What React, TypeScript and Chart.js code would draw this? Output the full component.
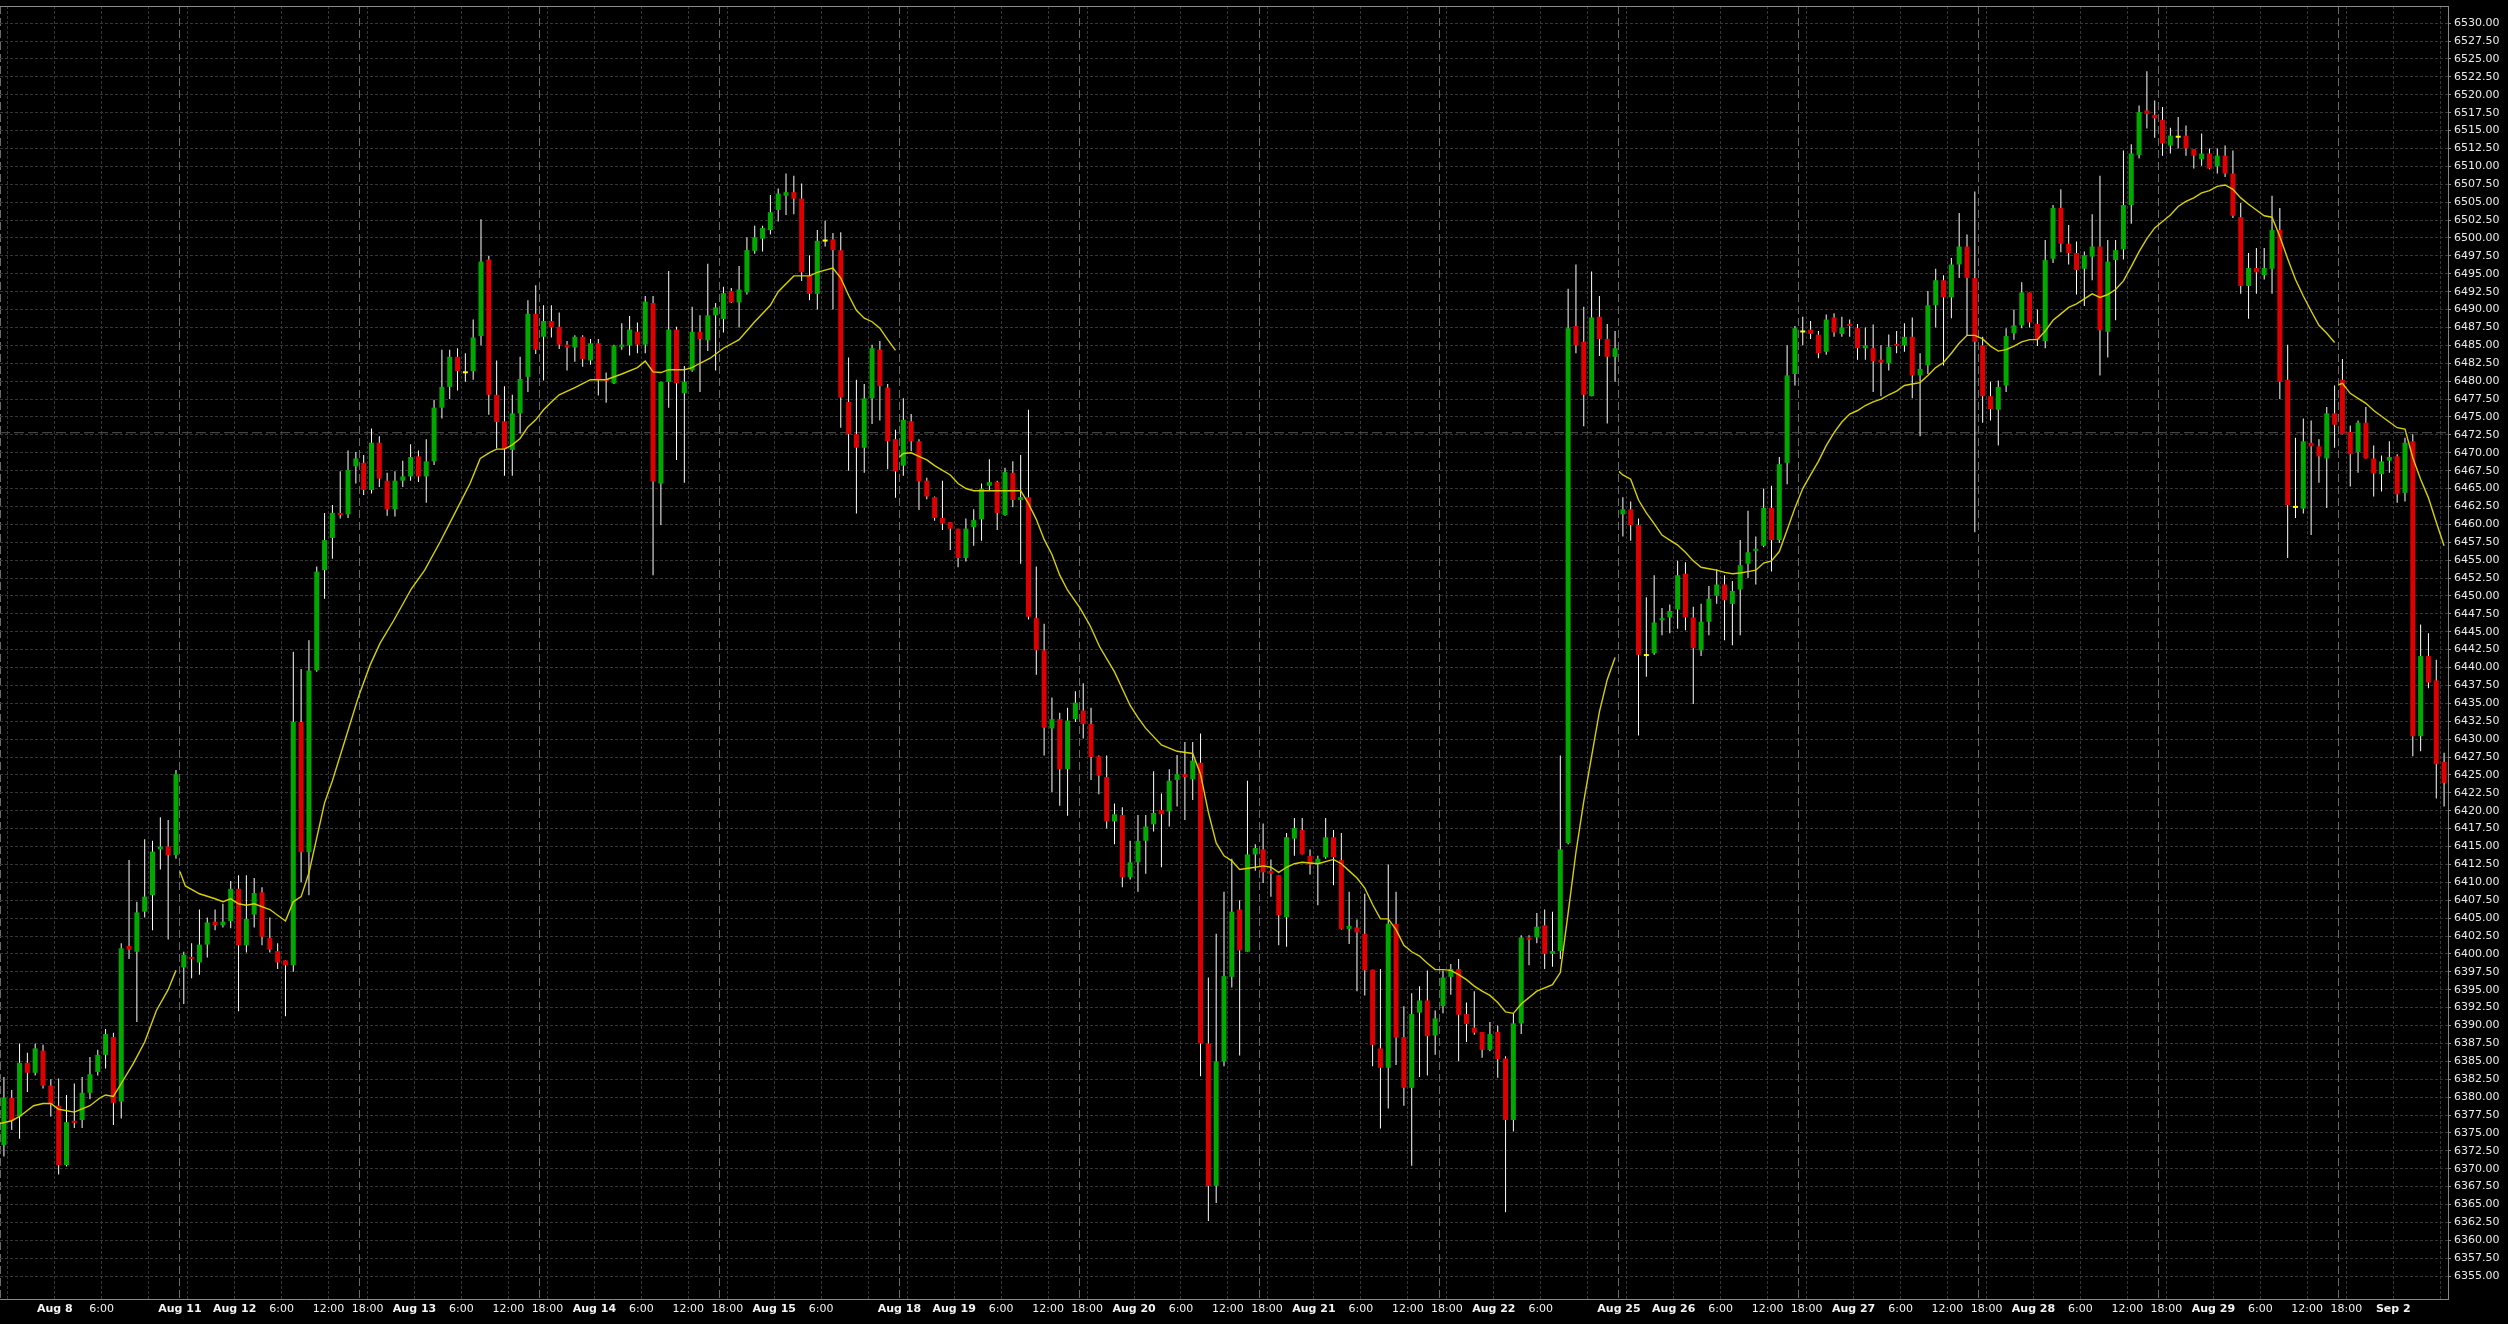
import React, { useEffect, useRef } from 'react';
import { Chart, registerables } from 'chart.js';

Chart.register(...registerables);

// ---- OHLC (hourly candles, index 0..312) ----
const opens = [
  6373.3, 6379.9, 6377.3, 6384.8, 6383.4, 6386.5, 6381.6, 6378.8, 6370.5, 6376.7,
  6376.8, 6380.6, 6383.5, 6385.9, 6388.4, 6379.4, 6401.1, 6400.3, 6405.9, 6408.2,
  6414.6, 6415.0, 6413.8, 6398.1, 6399.5, 6398.8, 6401.3, 6404.5, 6404.0, 6404.6,
  6409.1, 6401.2, 6405.5, 6408.6, 6402.2, 6400.4, 6399.1, 6398.4, 6432.4, 6414.2,
  6439.6, 6453.6, 6458.1, 6461.6, 6461.4, 6468.1, 6468.6, 6464.8, 6471.4, 6466.1,
  6462.1, 6466.1, 6466.7, 6469.5, 6466.7, 6468.8, 6476.3, 6479.2, 6483.4, 6481.1,
  6481.4, 6486.3, 6497.0, 6478.1, 6474.4, 6470.4, 6475.5, 6480.6, 6489.4, 6486.2,
  6488.4, 6487.6, 6485.1, 6484.7, 6486.2, 6482.9, 6485.3, 6480.3, 6479.7, 6484.8,
  6485.0, 6486.9, 6485.1, 6490.9, 6465.7, 6479.9, 6487.2, 6478.3, 6481.5, 6486.9,
  6485.7, 6489.2, 6488.7, 6492.6, 6491.0, 6492.4, 6498.2, 6499.9, 6501.1, 6503.9,
  6505.9, 6506.4, 6505.5, 6494.7, 6492.2, 6499.5, 6499.8, 6498.3, 6477.1, 6472.6,
  6470.7, 6477.6, 6484.4, 6479.1, 6471.9, 6468.2, 6474.4, 6471.6, 6466.1, 6463.8,
  6460.9, 6460.3, 6459.4, 6455.3, 6459.6, 6460.7, 6465.4, 6465.9, 6461.3, 6467.2,
  6463.4, 6463.8, 6446.9, 6442.4, 6431.5, 6432.8, 6425.8, 6432.8, 6434.0, 6432.1,
  6427.6, 6424.7, 6418.5, 6419.4, 6410.7, 6412.8, 6415.8, 6418.1, 6420.1, 6419.9,
  6424.3, 6425.1, 6424.4, 6426.7, 6387.5, 6367.6, 6385.0, 6396.8, 6406.2, 6400.3,
  6413.9, 6414.6, 6411.6, 6411.0, 6405.1, 6416.1, 6417.3, 6413.7, 6412.5, 6413.5,
  6416.3, 6413.1, 6403.5, 6403.7, 6402.8, 6397.8, 6386.8, 6384.1, 6404.2, 6388.4,
  6381.3, 6391.8, 6393.5, 6388.6, 6392.7, 6396.8, 6397.9, 6391.6, 6389.7, 6389.1,
  6386.6, 6389.1, 6385.4, 6376.8, 6390.3, 6402.3, 6402.3, 6404.0, 6400.0, 6400.4,
  6415.5, 6487.7, 6485.5, 6477.9, 6489.0, 6485.9, 6483.4, 6461.4, 6462.1, 6459.9,
  6441.6, 6442.0, 6446.6, 6447.0, 6448.1, 6453.1, 6447.0, 6442.4, 6446.4, 6450.0,
  6451.6, 6448.9, 6450.9, 6454.5, 6456.3, 6457.0, 6462.3, 6457.8, 6468.6, 6481.0,
  6486.8, 6487.2, 6486.5, 6484.1, 6488.9, 6486.6, 6488.0, 6487.4, 6484.6, 6484.6,
  6483.0, 6482.5, 6485.2, 6485.0, 6486.2, 6480.8, 6482.2, 6490.6, 6494.1, 6491.7,
  6496.3, 6498.8, 6494.4, 6485.0, 6477.9, 6476.0, 6479.4, 6486.7, 6487.8, 6492.4,
  6488.0, 6485.6, 6497.1, 6504.2, 6499.2, 6497.9, 6495.7, 6497.4, 6498.8, 6486.9,
  6496.9, 6498.4, 6504.6, 6511.6, 6517.8, 6517.2, 6516.5, 6512.9, 6514.0, 6514.3,
  6512.4, 6511.0, 6511.8, 6510.0, 6511.5, 6509.0, 6502.9, 6493.3, 6495.8, 6494.8,
  6495.7, 6501.1, 6480.2, 6462.3, 6462.2, 6471.4, 6470.9, 6469.2, 6475.5, 6480.2,
  6472.9, 6470.1, 6474.2, 6469.2, 6467.0, 6468.9, 6469.5, 6464.4, 6471.6, 6430.4,
  6441.6, 6438.2, 6426.8,
];

const highs = [
  6382.8, 6381.0, 6387.5, 6386.2, 6387.5, 6387.3, 6382.5, 6382.6, 6380.3, 6381.9,
  6382.8, 6385.6, 6386.6, 6389.5, 6389.0, 6401.5, 6413.1, 6407.3, 6416.0, 6415.8,
  6419.1, 6418.7, 6425.7, 6400.3, 6401.5, 6406.2, 6405.1, 6406.2, 6407.0, 6410.2,
  6411.0, 6411.0, 6410.6, 6409.3, 6405.1, 6401.5, 6399.1, 6442.2, 6439.8, 6443.8,
  6454.1, 6461.6, 6462.7, 6467.4, 6470.3, 6470.1, 6469.7, 6473.4, 6472.3, 6467.2,
  6467.4, 6468.9, 6471.2, 6470.3, 6471.9, 6477.4, 6484.4, 6484.4, 6484.6, 6483.9,
  6488.6, 6502.6, 6497.5, 6482.9, 6479.3, 6478.1, 6483.4, 6491.3, 6493.4, 6490.6,
  6490.6, 6489.6, 6485.6, 6486.4, 6486.4, 6485.9, 6485.9, 6481.2, 6485.1, 6488.1,
  6489.1, 6488.2, 6491.9, 6491.9, 6479.9, 6495.4, 6487.6, 6482.1, 6490.4, 6489.2,
  6496.4, 6490.9, 6493.2, 6493.0, 6496.1, 6500.1, 6501.7, 6501.7, 6506.0, 6506.9,
  6509.0, 6508.7, 6507.6, 6497.6, 6501.1, 6502.4, 6500.7, 6500.8, 6483.3, 6480.2,
  6479.6, 6485.1, 6485.6, 6479.6, 6473.2, 6477.6, 6475.4, 6471.9, 6466.5, 6463.9,
  6466.1, 6460.3, 6459.4, 6460.8, 6462.1, 6465.7, 6469.1, 6466.1, 6467.9, 6468.8,
  6469.7, 6476.0, 6454.1, 6446.1, 6435.8, 6433.7, 6434.4, 6436.7, 6437.8, 6434.4,
  6427.7, 6427.7, 6421.0, 6420.5, 6415.8, 6419.4, 6419.4, 6425.5, 6422.4, 6425.8,
  6427.8, 6429.6, 6429.6, 6430.8, 6396.7, 6402.8, 6408.7, 6413.3, 6407.5, 6424.2,
  6415.3, 6418.2, 6413.2, 6411.0, 6416.9, 6419.0, 6419.0, 6414.6, 6413.7, 6419.0,
  6417.3, 6416.9, 6408.7, 6404.8, 6408.4, 6397.8, 6397.9, 6412.5, 6408.7, 6392.7,
  6394.5, 6395.5, 6397.7, 6392.1, 6397.7, 6398.6, 6399.3, 6393.2, 6394.8, 6389.1,
  6390.5, 6390.0, 6385.7, 6391.7, 6402.6, 6402.6, 6405.7, 6406.2, 6405.9, 6427.7,
  6492.9, 6496.3, 6490.4, 6495.3, 6491.9, 6488.0, 6487.0, 6463.8, 6463.2, 6460.8,
  6449.8, 6452.9, 6448.3, 6448.8, 6454.9, 6454.7, 6448.5, 6448.9, 6451.4, 6453.7,
  6452.9, 6452.1, 6457.8, 6461.9, 6458.3, 6465.0, 6465.4, 6469.4, 6485.0, 6487.7,
  6489.0, 6488.4, 6487.0, 6489.3, 6489.5, 6489.0, 6488.6, 6488.0, 6487.5, 6487.9,
  6485.0, 6486.5, 6487.0, 6488.1, 6488.9, 6483.9, 6492.6, 6495.7, 6494.8, 6497.2,
  6503.5, 6500.5, 6506.5, 6486.2, 6479.9, 6480.1, 6487.4, 6490.0, 6493.8, 6492.4,
  6490.0, 6499.7, 6504.6, 6506.8, 6501.8, 6499.5, 6498.1, 6503.3, 6508.7, 6499.7,
  6499.7, 6512.2, 6513.1, 6518.5, 6523.3, 6519.2, 6518.3, 6515.4, 6516.9, 6515.7,
  6512.4, 6514.6, 6512.5, 6512.5, 6512.9, 6512.2, 6504.9, 6497.9, 6498.6, 6498.6,
  6505.9, 6504.2, 6485.1, 6472.1, 6474.8, 6474.5, 6471.9, 6476.4, 6479.4, 6483.1,
  6473.8, 6474.5, 6476.4, 6471.0, 6469.6, 6471.6, 6469.8, 6472.1, 6472.6, 6446.0,
  6444.8, 6441.1, 6428.1,
];

const lows = [
  6371.7, 6375.4, 6374.2, 6380.7, 6383.0, 6381.2, 6377.3, 6369.2, 6370.3, 6375.7,
  6375.7, 6379.7, 6383.0, 6384.0, 6376.1, 6377.0, 6399.3, 6390.5, 6405.1, 6403.3,
  6411.8, 6402.0, 6413.3, 6393.0, 6396.6, 6397.1, 6399.5, 6403.3, 6403.7, 6403.6,
  6392.0, 6400.2, 6403.7, 6401.2, 6400.2, 6397.9, 6391.3, 6397.5, 6410.0, 6408.2,
  6439.4, 6449.6, 6455.2, 6460.8, 6460.9, 6465.7, 6464.1, 6464.3, 6465.2, 6461.2,
  6461.1, 6465.2, 6466.1, 6465.9, 6463.0, 6468.3, 6474.8, 6477.5, 6478.7, 6479.9,
  6480.2, 6485.0, 6475.3, 6470.6, 6466.8, 6466.8, 6472.7, 6478.5, 6483.8, 6480.1,
  6486.1, 6484.5, 6481.5, 6482.7, 6482.0, 6482.3, 6478.0, 6477.0, 6479.6, 6484.4,
  6483.6, 6483.9, 6483.9, 6452.9, 6459.9, 6476.3, 6469.0, 6465.8, 6481.3, 6478.5,
  6484.2, 6481.5, 6486.8, 6490.9, 6487.5, 6492.1, 6497.8, 6498.1, 6500.5, 6502.3,
  6503.2, 6503.3, 6494.0, 6491.3, 6490.0, 6498.8, 6490.0, 6473.5, 6467.5, 6461.5,
  6467.2, 6474.0, 6474.5, 6467.7, 6463.7, 6466.8, 6470.2, 6462.0, 6463.5, 6460.5,
  6459.2, 6456.4, 6454.0, 6454.8, 6457.0, 6457.7, 6464.8, 6459.2, 6461.2, 6462.4,
  6454.5, 6446.7, 6439.0, 6427.7, 6422.6, 6420.7, 6419.3, 6432.4, 6430.1, 6424.3,
  6422.3, 6417.5, 6415.3, 6409.3, 6410.4, 6408.7, 6411.2, 6417.1, 6412.1, 6417.8,
  6420.6, 6418.7, 6421.5, 6382.9, 6362.7, 6365.2, 6384.3, 6395.3, 6385.8, 6400.3,
  6411.6, 6409.9, 6408.0, 6401.2, 6401.0, 6413.7, 6413.9, 6411.1, 6406.8, 6413.3,
  6409.6, 6403.4, 6401.4, 6394.8, 6394.2, 6384.3, 6375.6, 6378.4, 6384.5, 6378.8,
  6370.4, 6382.8, 6383.0, 6385.9, 6391.7, 6394.3, 6385.0, 6387.7, 6388.7, 6385.5,
  6386.4, 6382.7, 6363.9, 6375.2, 6388.8, 6398.4, 6401.5, 6397.9, 6398.2, 6399.3,
  6415.3, 6483.9, 6473.7, 6477.9, 6483.5, 6474.1, 6479.9, 6458.3, 6457.7, 6430.5,
  6438.7, 6441.8, 6444.5, 6444.8, 6445.4, 6445.2, 6434.9, 6441.6, 6444.5, 6448.9,
  6443.8, 6443.1, 6444.5, 6452.5, 6451.6, 6456.8, 6453.4, 6457.4, 6465.6, 6479.4,
  6485.0, 6485.9, 6483.2, 6483.7, 6486.2, 6486.2, 6486.2, 6483.0, 6483.0, 6478.5,
  6477.9, 6481.5, 6483.9, 6484.1, 6477.6, 6472.3, 6481.0, 6487.5, 6482.2, 6488.8,
  6494.4, 6486.4, 6458.9, 6474.2, 6474.5, 6471.0, 6478.5, 6485.8, 6487.4, 6487.5,
  6484.9, 6484.6, 6496.5, 6498.0, 6496.3, 6492.1, 6490.5, 6494.1, 6480.8, 6483.3,
  6488.5, 6497.0, 6502.0, 6511.1, 6515.3, 6514.0, 6511.5, 6511.8, 6512.5, 6511.5,
  6509.7, 6510.1, 6509.6, 6509.0, 6508.5, 6502.8, 6492.2, 6488.7, 6492.2, 6494.2,
  6492.2, 6477.5, 6455.3, 6460.9, 6461.5, 6458.5, 6465.8, 6462.3, 6470.7, 6472.6,
  6465.3, 6467.2, 6469.2, 6463.9, 6464.6, 6467.2, 6463.0, 6463.2, 6427.6, 6428.3,
  6437.1, 6421.7, 6420.6,
];

const closes = [
  6379.9, 6376.7, 6384.8, 6383.4, 6386.8, 6381.6, 6379.0, 6370.5, 6376.5, 6376.4,
  6380.6, 6383.2, 6385.9, 6388.8, 6379.2, 6400.8, 6400.6, 6405.8, 6408.0, 6414.3,
  6415.0, 6413.8, 6425.1, 6399.9, 6399.3, 6401.3, 6404.4, 6404.0, 6404.5, 6409.1,
  6401.2, 6404.9, 6408.5, 6402.4, 6400.6, 6398.8, 6398.4, 6432.4, 6414.2, 6439.6,
  6453.4, 6457.8, 6461.6, 6461.3, 6467.6, 6469.2, 6464.8, 6471.4, 6466.4, 6462.1,
  6466.1, 6466.7, 6469.4, 6466.7, 6468.8, 6476.3, 6479.2, 6483.4, 6481.4, 6481.1,
  6486.1, 6496.7, 6478.1, 6474.3, 6470.5, 6475.5, 6480.3, 6489.4, 6484.4, 6488.4,
  6487.5, 6485.1, 6484.7, 6486.2, 6483.1, 6485.3, 6480.3, 6480.0, 6484.9, 6485.1,
  6487.2, 6485.1, 6491.1, 6466.0, 6479.9, 6487.2, 6479.7, 6479.9, 6486.9, 6485.9,
  6489.2, 6490.3, 6492.3, 6491.0, 6492.8, 6498.3, 6500.1, 6501.4, 6503.6, 6506.2,
  6506.4, 6505.5, 6495.2, 6492.2, 6499.6, 6499.5, 6498.3, 6477.7, 6472.6, 6470.7,
  6477.6, 6484.6, 6479.3, 6471.6, 6467.4, 6474.6, 6471.6, 6466.0, 6463.9, 6460.9,
  6460.1, 6459.4, 6455.3, 6459.4, 6460.6, 6465.0, 6465.9, 6461.6, 6467.3, 6463.4,
  6463.8, 6447.1, 6442.4, 6431.6, 6432.8, 6425.8, 6432.6, 6435.1, 6432.1, 6427.5,
  6424.9, 6418.5, 6419.5, 6410.7, 6412.8, 6415.8, 6417.8, 6419.7, 6419.5, 6424.2,
  6425.1, 6424.7, 6427.0, 6387.5, 6367.6, 6385.0, 6396.9, 6405.9, 6400.5, 6413.9,
  6414.8, 6411.4, 6411.2, 6405.4, 6416.3, 6417.6, 6413.9, 6412.5, 6413.3, 6416.3,
  6413.5, 6403.5, 6403.9, 6403.0, 6397.7, 6387.3, 6384.1, 6404.2, 6388.3, 6381.3,
  6391.6, 6393.5, 6388.5, 6391.0, 6396.7, 6397.9, 6391.5, 6390.2, 6389.0, 6386.6,
  6388.8, 6385.3, 6376.8, 6390.3, 6402.3, 6402.0, 6403.8, 6400.0, 6400.4, 6414.6,
  6487.4, 6485.0, 6478.1, 6488.9, 6485.9, 6483.4, 6484.6, 6462.1, 6459.9, 6441.8,
  6441.6, 6446.3, 6446.9, 6447.9, 6452.9, 6447.0, 6442.7, 6446.4, 6449.6, 6451.6,
  6449.4, 6450.7, 6454.3, 6456.1, 6456.5, 6462.3, 6457.8, 6468.4, 6480.8, 6487.4,
  6486.8, 6486.6, 6483.9, 6488.6, 6486.8, 6487.5, 6487.7, 6484.6, 6485.0, 6482.8,
  6482.6, 6484.8, 6484.9, 6486.2, 6480.8, 6481.7, 6490.6, 6494.1, 6491.7, 6496.3,
  6498.8, 6494.4, 6485.5, 6477.9, 6476.1, 6479.2, 6486.3, 6487.8, 6492.4, 6488.2,
  6485.8, 6496.9, 6504.2, 6499.2, 6497.9, 6495.5, 6497.6, 6498.8, 6487.1, 6496.7,
  6498.3, 6504.6, 6511.8, 6517.6, 6517.3, 6516.7, 6513.2, 6514.3, 6514.0, 6512.5,
  6511.5, 6511.8, 6509.7, 6511.5, 6509.0, 6503.1, 6493.3, 6495.8, 6495.2, 6495.8,
  6501.1, 6479.9, 6462.7, 6462.3, 6471.6, 6470.9, 6469.5, 6475.5, 6473.9, 6472.6,
  6469.8, 6474.2, 6469.2, 6467.1, 6468.8, 6469.4, 6464.2, 6471.4, 6430.4, 6441.6,
  6437.9, 6426.5, 6423.9,
];

// ---- Moving average, read per week as [candle position, value] ----
const maWeek1 = [
  [-0.5, 6376.3], [1, 6376.7], [2, 6377.3], [3.8, 6378.8], [5, 6379.1], [6, 6379.1], [7, 6378.3],
  [9, 6377.9], [11, 6378.8], [12.3, 6379.9], [13, 6380.3], [14, 6380.1], [15, 6381.9], [16.5, 6384.6],
  [18, 6387.7], [19.5, 6392.1], [21, 6395.0], [22, 6397.7],
];
const maWeek2 = [
  [22.5, 6411.5], [23.2, 6409.5], [25, 6408.4], [27, 6407.7], [28, 6407.3], [29, 6407.7], [30, 6407.0],
  [31, 6406.8], [32, 6407.0], [34, 6406.2], [36, 6404.6], [37, 6407.3], [38, 6408.0], [39, 6411.3],
  [40, 6416.2], [41, 6421.1], [42, 6424.2], [43.8, 6430.5], [45.3, 6435.8], [46.8, 6440.3], [48.1, 6443.4],
  [49.8, 6446.5], [52.1, 6451.0], [53.8, 6453.6], [55.8, 6457.6], [57.3, 6460.8], [59.6, 6465.7],
  [60.9, 6469.2], [62.2, 6470.1], [63, 6470.5], [64, 6470.5], [65, 6471.1], [66, 6472.0], [67, 6473.6],
  [68, 6474.6], [69, 6476.0], [70, 6477.1], [71, 6478.1], [73, 6479.1], [75, 6480.2], [77, 6480.2],
  [79, 6481.0], [81, 6481.9], [82, 6482.8], [83, 6481.3], [84, 6481.2], [85, 6481.6], [87, 6481.6],
  [88, 6481.9], [89, 6482.5], [90.3, 6483.2], [92, 6484.6], [94, 6485.8], [96, 6488.3], [98, 6490.6],
  [99, 6492.5], [101, 6494.7], [102, 6494.7], [103, 6494.7], [104, 6495.2], [105, 6495.5], [106, 6495.8],
  [107, 6494.4], [108, 6492.0], [109, 6489.9], [110, 6488.8], [111, 6488.3], [112, 6487.4], [113, 6485.8],
  [114, 6484.3],
];
const maWeek3 = [
  [114.5, 6469.4], [115, 6469.9], [116, 6470.0], [117, 6469.5], [118, 6469.0], [119, 6468.2], [121, 6466.9],
  [122, 6465.7], [123, 6465.0], [124, 6464.7], [126, 6464.7], [128, 6464.7], [130, 6464.7], [131, 6462.9],
  [132, 6460.7], [133, 6457.9], [134, 6455.8], [135, 6452.9], [136, 6450.8], [137.6, 6448.3], [138.9, 6445.8],
  [140.1, 6442.9], [142, 6439.4], [144, 6434.7], [145, 6433.0], [146, 6431.5], [148, 6429.2], [150, 6428.3],
  [152, 6428.0], [153, 6425.1], [154, 6419.8], [155, 6415.5], [156, 6413.7], [157, 6413.0], [158, 6411.8],
  [160, 6412.1], [161, 6412.3], [162, 6412.1], [163, 6411.4], [164, 6412.1], [165, 6412.6], [166, 6412.8],
  [168, 6412.6], [170, 6413.2], [171, 6412.6], [172, 6411.6], [173, 6410.6], [174, 6409.2], [175, 6406.9],
  [176, 6404.9], [177, 6404.9], [178, 6403.4], [179, 6401.2], [180, 6400.3], [181, 6399.7], [182, 6398.7],
  [183, 6397.8], [184, 6397.8], [185, 6397.7], [186, 6397.1], [187, 6396.4], [188, 6395.5], [189, 6394.8],
  [190, 6394.2], [191, 6393.2], [192, 6391.9], [193, 6391.7], [194, 6393.0], [196, 6394.8], [198, 6395.7],
  [199, 6397.4], [200, 6405.7], [201, 6414.2], [202, 6421.3], [203, 6427.6], [204, 6433.8], [205, 6438.3],
  [206, 6441.4],
];
const maWeek4 = [
  [206.5, 6467.4], [207, 6466.9], [208, 6466.3], [209, 6463.4], [210, 6461.6], [211, 6460.1], [212, 6458.5],
  [213, 6457.8], [214, 6457.1], [215, 6456.1], [216, 6454.9], [217, 6454.0], [218, 6453.8], [219, 6453.6],
  [220, 6453.3], [221, 6453.1], [222, 6453.2], [223, 6453.4], [224, 6453.6], [225, 6454.6], [226, 6454.9],
  [227, 6456.2], [228, 6459.2], [229, 6462.3], [230, 6465.0], [231, 6466.9], [232, 6468.8], [233, 6471.0],
  [234, 6472.8], [235, 6474.3], [236, 6475.4], [237, 6475.9], [238, 6476.6], [239, 6477.1], [240, 6477.5],
  [241, 6478.1], [242, 6478.6], [243, 6479.4], [244, 6479.6], [245, 6479.8], [246, 6480.8], [247, 6481.9],
  [248, 6482.6], [249, 6483.9], [250, 6485.3], [251, 6486.4], [252, 6486.4], [253, 6485.9], [254, 6484.9],
  [255, 6484.2], [256, 6484.4], [257, 6484.9], [258, 6485.5], [259, 6485.8], [260, 6485.8], [261, 6487.0],
  [262, 6488.5], [263, 6489.4], [264, 6490.3], [265, 6490.8], [266, 6491.5], [267, 6492.2], [268, 6491.7],
  [269, 6492.1], [270, 6492.8], [271, 6494.0], [272, 6496.0], [273, 6498.1], [274, 6499.9], [275, 6501.4],
  [276, 6502.3], [277, 6503.2], [278, 6504.4], [279, 6505.1], [280, 6505.6], [281, 6506.3], [282, 6506.6],
  [283, 6507.2], [284, 6507.4], [285, 6506.8], [286, 6505.6], [287, 6504.7], [288, 6503.9], [289, 6503.1],
  [290, 6502.9], [291, 6500.2], [292, 6497.1], [293, 6494.2], [294, 6491.9], [295, 6489.8], [296, 6487.8],
  [297, 6486.7], [298, 6485.4],
];
const maWeek5 = [
  [298.5, 6479.5], [299, 6479.7], [300, 6478.3], [301, 6477.6], [302, 6476.9], [303, 6475.9], [304, 6475.1],
  [305, 6474.3], [306, 6473.5], [307, 6473.3], [308, 6469.3], [309, 6466.3], [310, 6463.7], [311, 6460.3],
  [312, 6457.0],
];

const crossPrice = 6472.8;

// ---- Axis definitions ----
const yMin = 6351.8;
const yMax = 6532.4;
const yTickFirst = 6355;
const yTickLast = 6530;
const yTickStep = 2.5;

const xLabelTicks = [7, 13, 23, 30, 36, 42, 47, 53, 59, 65, 70, 76, 82, 88, 93, 99, 105,
  115, 122, 128, 134, 139, 145, 151, 157, 162, 168, 174, 180, 185, 191, 197,
  207, 214, 220, 226, 231, 237, 243, 249, 254, 260, 266, 272, 277, 283, 289, 295, 300, 306];
const xLabelTexts = ['Aug 8', '6:00', 'Aug 11', 'Aug 12', '6:00', '12:00', '18:00', 'Aug 13', '6:00', '12:00', '18:00', 'Aug 14', '6:00', '12:00', '18:00', 'Aug 15', '6:00',
  'Aug 18', 'Aug 19', '6:00', '12:00', '18:00', 'Aug 20', '6:00', '12:00', '18:00', 'Aug 21', '6:00', '12:00', '18:00', 'Aug 22', '6:00',
  'Aug 25', 'Aug 26', '6:00', '12:00', '18:00', 'Aug 27', '6:00', '12:00', '18:00', 'Aug 28', '6:00', '12:00', '18:00', 'Aug 29', '6:00', '12:00', '18:00', 'Sep 2'];
const xPlainGridTicks = [1, 19, 24, 111, 116, 203, 208, 300, 312];
const xSessionTicks = [0, 23, 46, 69, 92, 115, 138, 161, 184, 207, 230, 253, 276, 299];
const candleCount = 313;

const GREEN = '#00a800';
const RED = '#dc0000';
const DOJI = '#ffff00';

export default function App() {
  const canvasRef = useRef<HTMLCanvasElement | null>(null);

  useEffect(() => {
    const canvas = canvasRef.current;
    if (!canvas) return;

    const labelMap = new Map<number, string>();
    xLabelTicks.forEach((t, k) => labelMap.set(t, xLabelTexts[k]));
    const sessionSet = new Set<number>(xSessionTicks);
    const allXTicks = Array.from(new Set<number>([...xLabelTicks, ...xPlainGridTicks, ...xSessionTicks])).sort((a, b) => a - b);
    const yTicks: number[] = [];
    for (let v = yTickFirst; v <= yTickLast + 1e-6; v += yTickStep) yTicks.push(Math.round(v * 100) / 100);
    const isDate = (v: number) => {
      const s = labelMap.get(v);
      return !!s && !s.includes(':');
    };

    const bodies = opens.map((o, i) => ({ x: i + 0.5, y: [o, closes[i]] }));
    const bodyColors = opens.map((o, i) => (closes[i] > o ? GREEN : closes[i] < o ? RED : DOJI));
    const wicks = lows.map((l, i) => ({ x: i + 0.5, y: [l, highs[i]] }));

    const maData: { x: number; y: number | null }[] = [];
    const weeks = [maWeek1, maWeek2, maWeek3, maWeek4, maWeek5];
    weeks.forEach((w, k) => {
      if (k > 0) maData.push({ x: w[0][0] + 0.25, y: null });
      w.forEach(([p, v]) => maData.push({ x: p + 0.5, y: v }));
    });

    const framePlugin = {
      id: 'frameTop',
      afterDraw(chart: any) {
        const { ctx, chartArea } = chart;
        ctx.save();
        ctx.strokeStyle = '#8a8a8a';
        ctx.lineWidth = 1;
        ctx.beginPath();
        ctx.moveTo(chartArea.left, Math.round(chartArea.top) + 0.5);
        ctx.lineTo(chartArea.right, Math.round(chartArea.top) + 0.5);
        ctx.stroke();
        ctx.restore();
      },
    };

    const chart = new Chart(canvas, {
      type: 'bar',
      data: {
        datasets: [
          {
            type: 'line',
            label: 'MA',
            data: maData as any,
            borderColor: '#d6d000',
            borderWidth: 1.4,
            pointRadius: 0,
            tension: 0,
            spanGaps: false,
            order: 0,
          },
          {
            type: 'bar',
            label: 'body',
            data: bodies as any,
            backgroundColor: bodyColors,
            borderWidth: 0,
            grouped: false,
            maxBarThickness: 5,
            minBarLength: 2,
            order: 1,
          },
          {
            type: 'bar',
            label: 'wick',
            data: wicks as any,
            backgroundColor: '#ffffff',
            borderWidth: 0,
            grouped: false,
            maxBarThickness: 1,
            order: 2,
          },
          {
            type: 'line',
            label: 'cross',
            data: [{ x: 0, y: crossPrice }, { x: candleCount, y: crossPrice }] as any,
            borderColor: '#555555',
            borderWidth: 1,
            borderDash: [10, 4],
            pointRadius: 0,
            order: 5,
          },
        ],
      },
      options: {
        responsive: false,
        animation: false,
        devicePixelRatio: 1,
        events: [],
        layout: { padding: { top: 6, left: 0, right: 0, bottom: 0 } },
        plugins: { legend: { display: false }, tooltip: { enabled: false } },
        scales: {
          x: {
            type: 'linear',
            min: 0,
            max: candleCount,
            bounds: 'data',
            offset: false,
            afterBuildTicks: (axis: any) => {
              axis.ticks = allXTicks.map((v) => ({ value: v }));
            },
            afterFit: (axis: any) => {
              axis.height = 25;
              axis.paddingLeft = 0;
              axis.paddingRight = 0;
            },
            grid: {
              offset: false,
              drawTicks: false,
              lineWidth: 1,
              color: (ctx: any) => (ctx.tick && sessionSet.has(ctx.tick.value) ? '#6a6a6a' : '#363636'),
            },
            border: {
              display: true,
              color: '#8a8a8a',
              width: 1,
              dash: (ctx: any) => (ctx.tick && sessionSet.has(ctx.tick.value) ? [8, 4] : [3, 2]),
            },
            ticks: {
              autoSkip: false,
              maxRotation: 0,
              minRotation: 0,
              padding: 4,
              color: '#f2f2f2',
              font: (ctx: any) => ({
                family: 'DejaVu Sans',
                size: 11,
                weight: ctx.tick && isDate(ctx.tick.value) ? 'bold' : 'normal',
              }),
              callback: (value: any) => labelMap.get(Number(value)) ?? '',
            },
          },
          y: {
            type: 'linear',
            position: 'right',
            min: yMin,
            max: yMax,
            bounds: 'data',
            afterBuildTicks: (axis: any) => {
              axis.ticks = yTicks.map((v) => ({ value: v }));
            },
            afterFit: (axis: any) => {
              axis.width = 60;
              axis.paddingTop = 0;
              axis.paddingBottom = 0;
            },
            grid: {
              color: '#363636',
              lineWidth: 1,
              drawTicks: true,
              tickLength: 3,
              tickColor: '#8a8a8a',
            },
            border: { display: true, color: '#8a8a8a', width: 1, dash: [3, 2] },
            ticks: {
              padding: 3,
              color: '#eaeaea',
              font: { family: 'DejaVu Sans', size: 11 },
              callback: (value: any) => Number(value).toFixed(2),
            },
          },
        },
      },
      plugins: [framePlugin],
    } as any);

    return () => chart.destroy();
  }, []);

  return (
    <div style={{ position: 'fixed', left: 0, top: 0, width: 2508, height: 1324, background: '#000' }}>
      <canvas ref={canvasRef} width={2508} height={1324} style={{ display: 'block', width: 2508, height: 1324 }} />
    </div>
  );
}
